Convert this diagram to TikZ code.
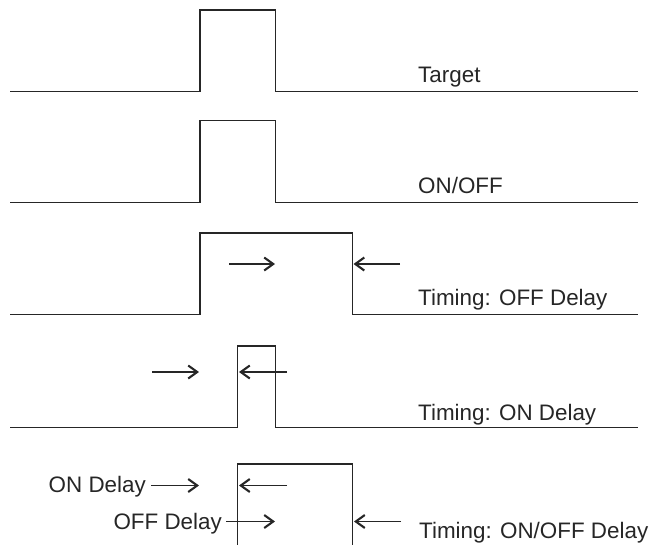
\documentclass[tikz,border=0pt]{standalone}
\usepackage{fontspec}
\setmainfont{Liberation Sans}
\usetikzlibrary{arrows.meta}
\begin{document}
\begin{tikzpicture}[x=1pt,y=-1pt,
  wave/.style={line width=1.5pt, line join=miter, draw=black!85},
  dly/.style={line width=1.3pt, draw=black!85, -{Straight Barb[length=9pt,width=13pt,line width=2.1pt]}},
  lbl/.style={anchor=base west, inner sep=0pt, font=\fontsize{22.4}{26}\selectfont, text=black!85},
  lble/.style={lbl, anchor=base east}]
\useasboundingbox (0,0) rectangle (650,544);
% Row 1: Target
\draw[wave] (10,91.5) -- (200,91.5) -- (200,10) -- (275.5,10) -- (275.5,91.5) -- (638,91.5);
\node[lbl] (t1) at (418,82) {Target};
% Row 2: ON/OFF
\draw[wave] (10,202.5) -- (200,202.5) -- (200,120.5) -- (275.5,120.5) -- (275.5,202.5) -- (638,202.5);
\node[lbl] (t2) at (418,193) {ON/OFF};
% Row 3: OFF Delay
\draw[wave] (10,314.5) -- (200,314.5) -- (200,233) -- (352.5,233) -- (352.5,314.5) -- (638,314.5);
\coordinate (a3s) at (229,264); \coordinate (a3e) at (275,264);
\coordinate (b3s) at (400,264); \coordinate (b3e) at (353.5,264);
\draw[dly] (a3s) -- (a3e);
\draw[dly] (b3s) -- (b3e);
\node[lbl] (t3) at (418,305) {Timing: OFF Delay};
% Row 4: ON Delay
\draw[wave] (10,427.5) -- (237.5,427.5) -- (237.5,346) -- (275.5,346) -- (275.5,427.5) -- (638,427.5);
\coordinate (a4s) at (152,372); \coordinate (a4e) at (199,372);
\coordinate (b4s) at (287,372); \coordinate (b4e) at (239,372);
\draw[dly] (a4s) -- (a4e);
\draw[dly] (b4s) -- (b4e);
\node[lbl] (t4) at (418,420) {Timing: ON Delay};
% Row 5: ON/OFF Delay
\draw[wave] (237.5,545) -- (237.5,464) -- (352.5,464) -- (352.5,545);
\node[lble] (on5) at (146,492) {ON Delay};
\node[lble] (off5) at (222,529) {OFF Delay};
\coordinate (a5e) at (199,485.5);
\coordinate (b5s) at (287,485.5); \coordinate (b5e) at (239,485.5);
\coordinate (c5e) at (275,521.5);
\coordinate (d5s) at (401,521.5); \coordinate (d5e) at (354,521.5);
\draw[dly] (on5.east |- a5e) ++(5,0) -- (a5e);
\draw[dly] (b5s) -- (b5e);
\draw[dly] (off5.east |- c5e) ++(4,0) -- (c5e);
\draw[dly] (d5s) -- (d5e);
\node[lbl] (t5) at (419,538) {Timing: ON/OFF Delay};
\end{tikzpicture}
\end{document}
